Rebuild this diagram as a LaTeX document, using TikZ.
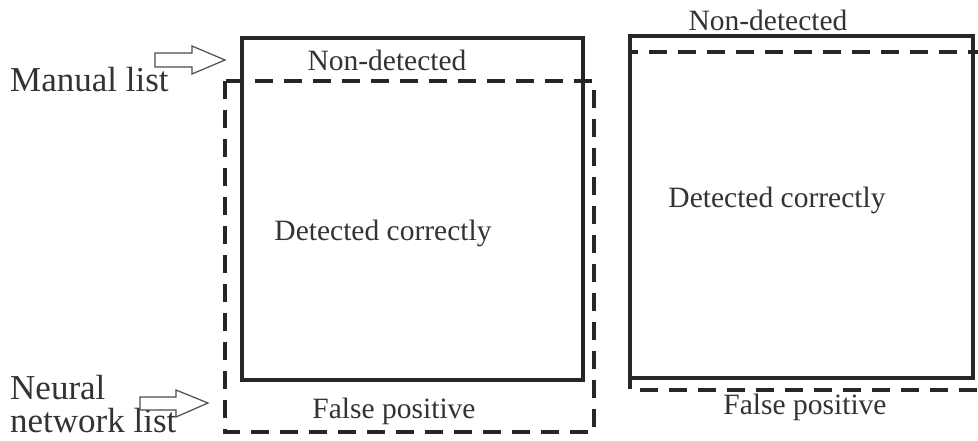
\documentclass[tikz,border=0pt]{standalone}
\usepackage{fontspec}
\setmainfont{Liberation Serif}
\begin{document}
\begin{tikzpicture}[x=1pt,y=-1pt,
  solidbox/.style={draw=black!85,line width=4.5pt},
  dashbox/.style={draw=black!85,line width=4.5pt,dash pattern=on 18pt off 11pt},
  lbl/.style={text=black!80,font=\fontsize{29.5}{31}\selectfont,inner sep=0pt},
  side/.style={text=black!80,font=\fontsize{35}{35}\selectfont,inner sep=0pt,align=left},
  hollow/.style={draw=black!70,line width=1.2pt,fill=white,line join=miter}]
\useasboundingbox (0,0) rectangle (978,441);
\clip (0,0) rectangle (978,441);
\fill[white] (0,0) rectangle (978,441);
% left diagram
\draw[solidbox] (242,38) rectangle (583,380);
\draw[dashbox] (225,81) rectangle (594,432);
\node[lbl] (nd1) at (387,60) {Non-detected};
\node[lbl] (dc1) at (383,233) {Detected correctly};
\node[lbl] (fp1) at (394,411) {False positive};
% right diagram
\draw[dashbox] (630,52) rectangle (992,390);
\draw[solidbox] (630,36) rectangle (973,378);
\node[lbl] (nd2) at (768,20) {Non-detected};
\node[lbl] (dc2) at (777,200) {Detected correctly};
\node[lbl] (fp2) at (805,407) {False positive};
% side labels
\node[side,anchor=west] (ml) at (10,80) {Manual list};
\node[side,anchor=west] (nn1) at (10,388) {Neural};
\node[side,anchor=west] (nn2) at (10,421) {network list};
% hollow arrows
\draw[hollow] (155,53) -- (192,53) -- (192,46) -- (225,60) -- (192,74) -- (192,67) -- (155,67) -- cycle;
\draw[hollow] (140,397) -- (176,397) -- (176,390) -- (208,403) -- (176,417) -- (176,410) -- (140,410) -- cycle;
\end{tikzpicture}
\end{document}
